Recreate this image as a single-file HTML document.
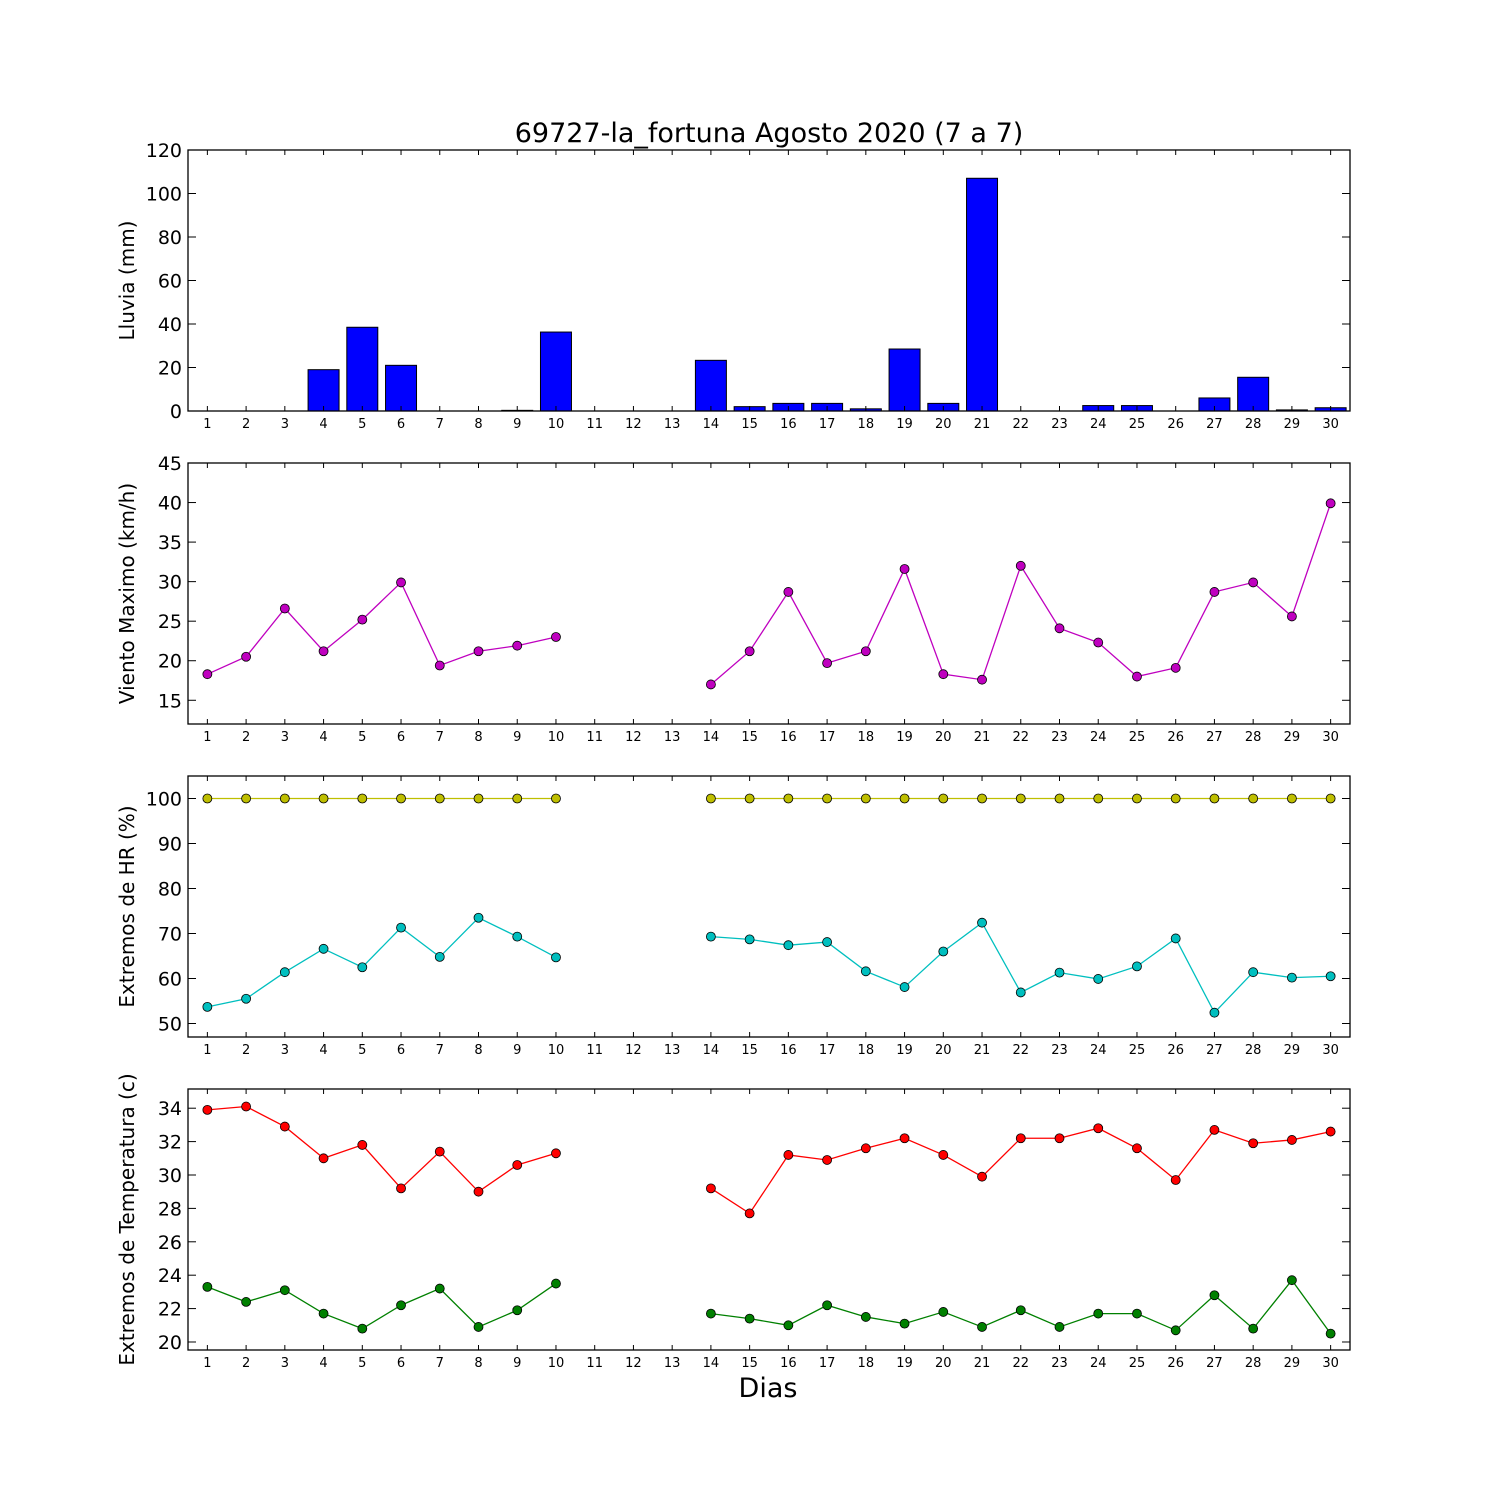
<!DOCTYPE html>
<html><head><meta charset="utf-8"><style>body{margin:0;background:#fff}svg{display:block;font-family:"DejaVu Sans","Liberation Sans",sans-serif}</style></head>
<body>
<svg id="c" width="1500" height="1500" xmlns="http://www.w3.org/2000/svg">
<rect width="1500" height="1500" fill="#fff"/>
<text x="769" y="142" font-size="27" text-anchor="middle">69727-la_fortuna Agosto 2020  (7 a 7)</text>
<text x="768" y="1397" font-size="27" text-anchor="middle">Dias</text>
</svg>
<script>
const days = Array.from({length:30},(_,i)=>i+1);
const rain = [0,0,0,19,38.5,21,0,0,0.3,36.3,0,0,0,23.3,2,3.5,3.5,1,28.5,3.5,107,0,0,2.5,2.5,0,6,15.5,0.5,1.5];
const wind = [18.3,20.5,26.6,21.2,25.2,29.9,19.4,21.2,21.9,23.0,null,null,null,17.0,21.2,28.7,19.7,21.2,31.6,18.3,17.6,32.0,24.1,22.3,18.0,19.1,28.7,29.9,25.6,39.9];
const hrMax = [100,100,100,100,100,100,100,100,100,100,null,null,null,100,100,100,100,100,100,100,100,100,100,100,100,100,100,100,100,100];
const hrMin = [53.7,55.5,61.4,66.6,62.5,71.3,64.8,73.5,69.3,64.7,null,null,null,69.3,68.7,67.4,68.1,61.6,58.1,66.0,72.4,56.9,61.3,59.9,62.7,68.9,52.4,61.4,60.2,60.5];
const tMax = [33.9,34.1,32.9,31.0,31.8,29.2,31.4,29.0,30.6,31.3,null,null,null,29.2,27.7,31.2,30.9,31.6,32.2,31.2,29.9,32.2,32.2,32.8,31.6,29.7,32.7,31.9,32.1,32.6];
const tMin = [23.3,22.4,23.1,21.7,20.8,22.2,23.2,20.9,21.9,23.5,null,null,null,21.7,21.4,21.0,22.2,21.5,21.1,21.8,20.9,21.9,20.9,21.7,21.7,20.7,22.8,20.8,23.7,20.5];
const rainTicks=[0,20,40,60,80,100,120], windTicks=[15,20,25,30,35,40,45], hrTicks=[50,60,70,80,90,100], tTicks=[20,22,24,26,28,30,32,34];

const NS='http://www.w3.org/2000/svg', svg=document.getElementById('c');
function el(t,a,p){const e=document.createElementNS(NS,t);for(const k in a)e.setAttribute(k,a[k]);(p||svg).appendChild(e);return e;}
const X0=188,X1=1350;
const xs=d=>X0+(d-0.5)*(X1-X0)/30;
function panel(name,top,bot,ymin,ymax,ticks,label){
  const g=el('g',{});
  
  
  const ys=v=>bot-(v-ymin)*(bot-top)/(ymax-ymin);
  return {g,ys,finish(){
    el('rect',{x:X0,y:top,width:X1-X0,height:bot-top,fill:'none',stroke:'#000','stroke-width':1.3},g);
    for(const t of ticks){const y=ys(t);
      el('line',{x1:X0,x2:X0+8,y1:y,y2:y,stroke:'#000'},g);el('line',{x1:X1,x2:X1-8,y1:y,y2:y,stroke:'#000'},g);
      const tx=el('text',{x:X0-6,y:y+7,'font-size':19,'text-anchor':'end'},g);tx.textContent=t;
      
      }
    for(const d of days){const x=xs(d);
      el('line',{x1:x,x2:x,y1:bot,y2:bot-5,stroke:'#000'},g);el('line',{x1:x,x2:x,y1:top,y2:top+5,stroke:'#000'},g);
      const tx=el('text',{x:x,y:bot+17,'font-size':13,'text-anchor':'middle'},g);tx.textContent=d;
      
      }
    const cy=(top+bot)/2;
    const lb=el('text',{x:0,y:0,'font-size':20,'text-anchor':'middle',transform:`translate(134,${cy}) rotate(-90)`},g);lb.textContent=label;
    
    
  }};
}
function series(p,vals,color,name){
  let seg=[];const segs=[];
  vals.forEach((v,i)=>{if(v==null){if(seg.length)segs.push(seg);seg=[];}else seg.push([xs(days[i]),p.ys(v)]);});
  if(seg.length)segs.push(seg);
  segs.forEach(s=>{const l=el('polyline',{points:s.map(q=>q.join(',')).join(' '),fill:'none',stroke:color,'stroke-width':1.3},p.g);
    
    });
  vals.forEach((v,i)=>{if(v==null)return;const c=el('circle',{cx:xs(days[i]),cy:p.ys(v),r:4.5,fill:color,stroke:'#000','stroke-width':0.8},p.g);
    
    });
}
const p1=panel('rain',150,411,0,120,rainTicks,'Lluvia (mm)');
rain.forEach((v,i)=>{const x=xs(days[i]),w=0.8*38.73,y=p1.ys(v);
  const r=el('rect',{x:x-w/2,y:y,width:w,height:411-y,fill:'#0000ff',stroke:'#000','stroke-width':1},p1.g);
  
  });
p1.finish();
const p2=panel('wind',463,724,12,45,windTicks,'Viento Maximo (km/h)');
series(p2,wind,'#bf00bf','wind');p2.finish();
const p3=panel('humidity',776,1037,47,105,hrTicks,'Extremos de HR (%)');
series(p3,hrMax,'#bfbf00','hr-max');series(p3,hrMin,'#00bfbf','hr-min');p3.finish();
const p4=panel('temperature',1089,1350,19.52,35.15,tTicks,'Extremos de Temperatura (c)');
series(p4,tMax,'#ff0000','temp-max');series(p4,tMin,'#008000','temp-min');p4.finish();
</script>
</body></html>
